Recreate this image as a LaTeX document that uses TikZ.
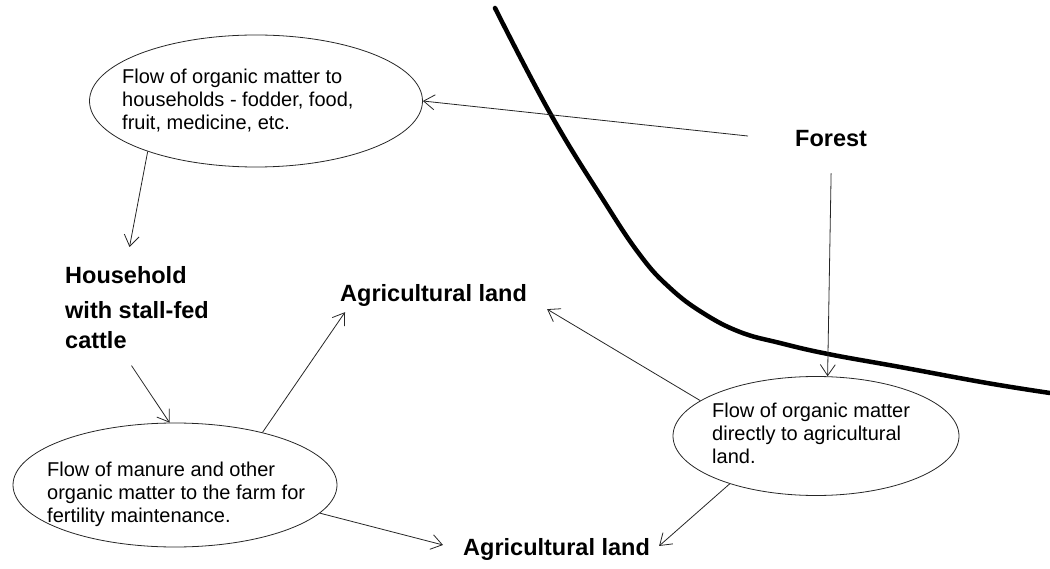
\documentclass[tikz,border=0pt]{standalone}
\usepackage{fontspec}
\setmainfont{Liberation Sans}
\usetikzlibrary{arrows.meta,shapes.geometric}
\begin{document}
\begin{tikzpicture}[x=1pt,y=-1pt,
  oval/.style={draw=black!85, line width=0.8pt, ellipse, inner sep=0pt},
  note/.style={anchor=base west, inner sep=0pt, align=left, font=\fontsize{20}{23}\selectfont},
  place/.style={inner sep=0pt, font=\fontsize{23.5}{30}\selectfont\bfseries},
  flow/.style={draw=black!85, line width=0.8pt, -{Straight Barb[length=11pt,width=15pt]}},
  border/.style={line width=4.5pt, line cap=round, line join=round}]

\useasboundingbox (0,0) rectangle (1050,569);

% forest edge
\draw[border] plot[smooth, tension=0.7] coordinates {(495,8) (550,113) (602,198) (640,255)
  (670,288) (703,313) (740,332) (780,343) (828,354) (900,367) (987,383) (1050,393)};

% flow ellipses (text nodes are placed by the baseline of their last line)
\node[oval, minimum width=333pt, minimum height=132pt] (e1) at (256,101) {};
\node[note] (t1) at (122,130) {Flow of organic matter to\\households - fodder, food,\\fruit, medicine, etc.};

\node[oval, minimum width=324pt, minimum height=124pt] (e2) at (175,485) {};
\node[note] (t2) at (47,522) {Flow of manure and other\\organic matter to the farm for\\fertility maintenance.};

\node[oval, minimum width=286pt, minimum height=119pt] (e3) at (816,436) {};
\node[note] (t3) at (712,463) {Flow of organic matter\\directly to agricultural\\land.};

% places
\node[place, anchor=base west] (forest) at (795,147) {Forest};
\node[place, anchor=north west, align=left] (hh) at (65,266) {Household\\[5pt]with stall-fed\\cattle};
\node[place, anchor=base west] (agri1) at (340,302) {Agricultural land};
\node[place, anchor=base west] (agri2) at (463,555) {Agricultural land};

% flows
\draw[flow] ([xshift=-47pt,yshift=3pt]forest.west) -- (e1.east);
\draw[flow] ([yshift=-26pt]forest.south) -- (e3.79.5);
\draw[flow] (e1.205.7) -- ([xshift=-7.5pt,yshift=19pt]hh.north);
\draw[flow] ([xshift=-5.5pt,yshift=-17pt]hh.south) -- (e2.95);
\draw[flow] (e2.31) -- ([xshift=5pt,yshift=-5pt]agri1.south west);
\draw[flow] (e2.-11) -- ([xshift=-20pt,yshift=4pt]agri2.west);
\draw[flow] (e3.163) -- ([xshift=20pt,yshift=-2pt]agri1.south east);
\draw[flow] (e3.209) -- ([xshift=9pt,yshift=3pt]agri2.east);
\end{tikzpicture}
\end{document}
